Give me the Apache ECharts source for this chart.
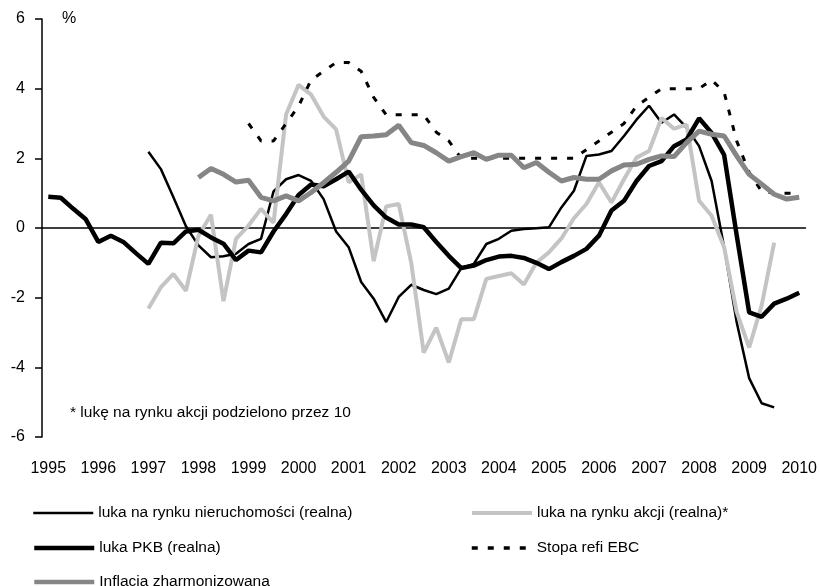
<!DOCTYPE html>
<html>
<head>
<meta charset="utf-8">
<script src="https://cdn.jsdelivr.net/npm/echarts@6/dist/echarts.min.js"></script>
<style>
  html, body { margin: 0; padding: 0; background: #fff; }
  #chart { width: 820px; height: 586px; }
</style>
</head>
<body>
<div id="chart"></div>
<script>
// lata na osi (dane kwartalne 1995Q1 - 2010Q1)
var years = [1995, 1996, 1997, 1998, 1999, 2000, 2001, 2002, 2003, 2004, 2005, 2006, 2007, 2008, 2009, 2010];

// luka na rynku nieruchomości (realna), od 1997Q1
var housingGap = [2.19, 1.69, 0.88, 0.05, -0.5, -0.84, -0.81, -0.74, -0.46, -0.31,
    1.05, 1.4, 1.52, 1.35, 0.83, -0.1, -0.55, -1.55, -2.03, -2.7,
    -1.98, -1.63, -1.78, -1.9, -1.74, -1.15, -1.03, -0.46, -0.31, -0.08,
    -0.03, -0.01, 0.02, 0.59, 1.07, 2.07, 2.11, 2.21, 2.64, 3.11,
    3.51, 3.02, 3.26, 2.88, 2.35, 1.35, -0.55, -2.7, -4.31, -5.03,
    -5.15];

// luka na rynku akcji (realna)/10, od 1997Q1
var stockGap = [-2.31, -1.7, -1.32, -1.8, -0.22, 0.38, -2.1, -0.31, 0.07, 0.55,
    0.15, 3.26, 4.11, 3.83, 3.2, 2.83, 1.31, 1.54, -0.95, 0.62,
    0.69, -1.0, -3.58, -2.86, -3.86, -2.62, -2.62, -1.46, -1.38, -1.3,
    -1.62, -1.0, -0.7, -0.3, 0.28, 0.69, 1.31, 0.73, 1.4, 2.02,
    2.21, 3.16, 2.85, 2.97, 0.78, 0.35, -0.55, -2.41, -3.43, -2.22,
    -0.42];

// luka PKB (realna), od 1995Q1
var gdpGap = [0.9, 0.87, 0.55, 0.25, -0.4, -0.22, -0.4, -0.72, -1.03, -0.42,
    -0.44, -0.1, -0.05, -0.27, -0.45, -0.92, -0.65, -0.7, -0.1, 0.4,
    0.95, 1.25, 1.2, 1.4, 1.62, 1.1, 0.65, 0.3, 0.1, 0.1,
    0.02, -0.4, -0.8, -1.15, -1.08, -0.92, -0.82, -0.8, -0.86, -1.0,
    -1.18, -0.98, -0.8, -0.6, -0.22, 0.5, 0.78, 1.35, 1.78, 1.92,
    2.35, 2.54, 3.15, 2.73, 2.1, -0.2, -2.42, -2.55, -2.17, -2.03,
    -1.86];

// stopa refi EBC, od 1999Q1
var ecbRate = [3.0, 2.5, 2.5, 3.0, 3.5, 4.25, 4.5, 4.75, 4.75, 4.5,
    3.75, 3.25, 3.25, 3.25, 3.25, 2.75, 2.5, 2.0, 2.0, 2.0,
    2.0, 2.0, 2.0, 2.0, 2.0, 2.0, 2.0, 2.25, 2.5, 2.75,
    3.0, 3.5, 3.75, 4.0, 4.0, 4.0, 4.0, 4.25, 3.9, 2.5,
    1.6, 1.05, 1.0, 1.0, 1.0];

// inflacja HICP, od 1998Q1
var hicp = [1.45, 1.71, 1.54, 1.32, 1.37, 0.88, 0.78, 0.92, 0.78, 1.02,
    1.3, 1.6, 1.92, 2.62, 2.64, 2.68, 2.95, 2.45, 2.37, 2.16,
    1.92, 2.05, 2.16, 1.97, 2.09, 2.09, 1.73, 1.88, 1.6, 1.35,
    1.45, 1.4, 1.4, 1.64, 1.81, 1.83, 1.97, 2.07, 2.05, 2.45,
    2.78, 2.69, 2.64, 2.07, 1.54, 1.26, 0.97, 0.83, 0.88];

var names = ['luka na rynku nieruchomości (realna)', 'luka na rynku akcji (realna)*',
    'luka PKB (realna)', 'Stopa refi EBC', 'Inflacja zharmonizowana'];

// kategorie kwartalne
var quarters = [];
years.forEach(function (y) {
    for (var q = 1; q <= 4; q++) {
        if (y === 2010 && q > 1) break;
        quarters.push(y + ' Q' + q);
    }
});

// wyrownanie serii do osi (puste kwartaly na poczatku/koncu)
function align(arr, startIdx) {
    var out = [];
    for (var i = 0; i < quarters.length; i++) {
        var v = arr[i - startIdx];
        out.push(v === undefined ? null : v);
    }
    return out;
}

var FONT = "'Liberation Sans', Arial, sans-serif";

var chart = echarts.init(document.getElementById('chart'), null, { renderer: 'canvas' });

function legendAt(name, left, top, lw) {
    return {
        data: [name],
        left: left,
        top: top,
        itemWidth: 60,
        itemHeight: 12,
        itemGap: 0,
        padding: 0,
        itemStyle: { opacity: 0 },   // bez kółka w legendzie, tylko linia
        lineStyle: { width: lw },
        textStyle: { fontFamily: FONT, fontSize: 15.5, color: '#000' }
    };
}

var option = {
    animation: false,
    backgroundColor: '#fff',
    grid: { left: 42, right: 13, top: 19, bottom: 149 },
    legend: [
        legendAt(names[0], 32, 505, 2.5),
        legendAt(names[1], 470, 505, 4),
        legendAt(names[2], 32, 540, 4.5),
        legendAt(names[3], 470, 540, 3.5),
        legendAt(names[4], 32, 574, 4.5)
    ],
    graphic: [
        { type: 'text', left: 62, top: 11, style: { text: '%', font: '16px ' + FONT, fill: '#000' } },
        { type: 'text', left: 70, top: 405, style: { text: '* lukę na rynku akcji podzielono przez 10', font: '15.5px ' + FONT, fill: '#000' } }
    ],
    xAxis: [{
        type: 'category',
        data: quarters,
        boundaryGap: true,
        axisLine: { onZero: true, lineStyle: { color: '#000', width: 1.5 } },
        axisTick: { interval: 3, length: 7, lineStyle: { color: '#000', width: 1.5 } },
        axisLabel: { show: false },
        splitLine: { show: false }
    }, {
        type: 'category',
        data: quarters,
        position: 'bottom',
        boundaryGap: true,
        axisLine: { show: false },
        axisTick: { show: false },
        axisLabel: {
            interval: 3,
            margin: 24,
            fontFamily: FONT,
            fontSize: 16,
            color: '#000',
            formatter: function (v) { return v.split(' ')[0]; }
        }
    }],
    yAxis: {
        type: 'value',
        min: -6,
        max: 6,
        interval: 2,
        axisLine: { show: true, lineStyle: { color: '#000', width: 1.5 } },
        axisTick: { show: true, length: 7, lineStyle: { color: '#000', width: 1.5 } },
        axisLabel: { margin: 17, fontFamily: FONT, fontSize: 16, color: '#000' },
        splitLine: { show: false }
    },
    series: [{
        name: names[0],
        type: 'line',
        symbol: 'none',
        data: align(housingGap, 8),
        lineStyle: { color: '#000', width: 2.5 },
        itemStyle: { color: '#000' }
    }, {
        name: names[1],
        type: 'line',
        symbol: 'none',
        data: align(stockGap, 8),
        lineStyle: { color: '#c4c4c4', width: 4 },
        itemStyle: { color: '#c4c4c4' }
    }, {
        name: names[2],
        type: 'line',
        symbol: 'none',
        data: gdpGap,
        lineStyle: { color: '#000', width: 4.5 },
        itemStyle: { color: '#000' }
    }, {
        name: names[3],
        type: 'line',
        symbol: 'none',
        data: align(ecbRate, 16),
        lineStyle: { color: '#000', width: 3, type: [6, 10] },
        itemStyle: { color: '#000' }
    }, {
        name: names[4],
        type: 'line',
        symbol: 'none',
        data: align(hicp, 12),
        lineStyle: { color: '#868686', width: 5 },
        itemStyle: { color: '#868686' }
    }]
};
chart.setOption(option);
</script>
</body>
</html>
